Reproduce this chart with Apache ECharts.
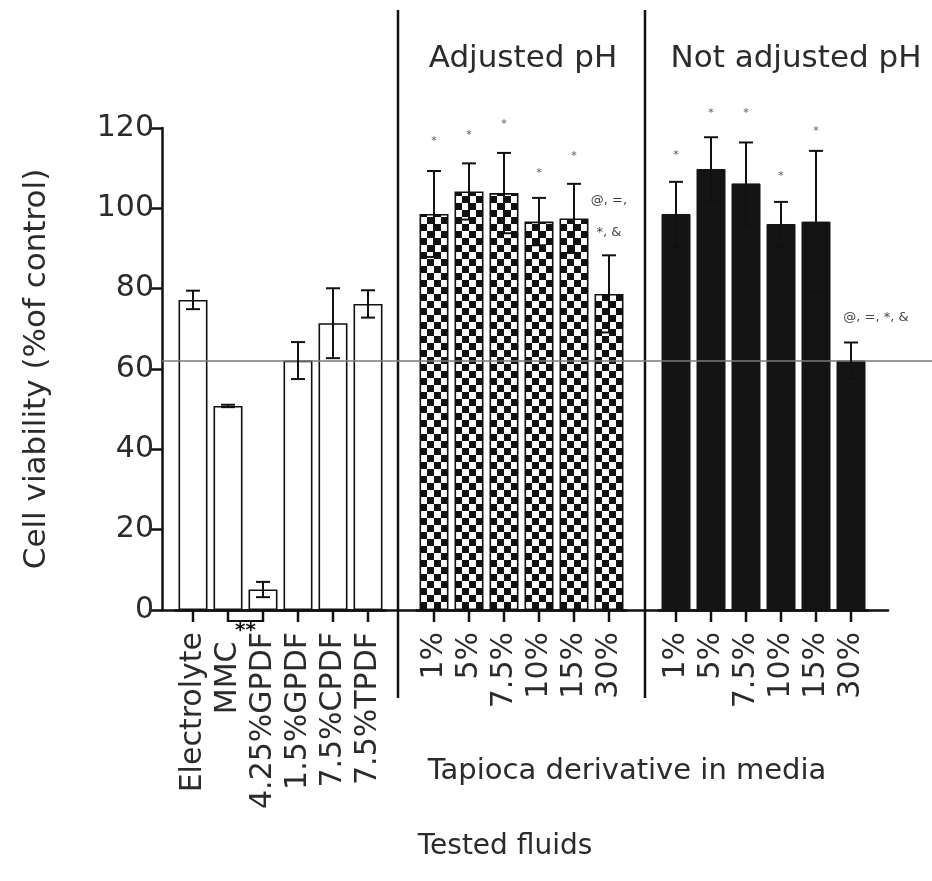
<!DOCTYPE html>
<html>
<head>
<meta charset="utf-8">
<script src="https://cdn.jsdelivr.net/npm/echarts@6/dist/echarts.min.js"></script>
<style>html,body{margin:0;padding:0;background:#fff}#c{width:932px;height:881px}</style>
</head>
<body>
<div id="c"></div>
<script>
// ---- data ----
const categoriesFluids = ['Electrolyte', 'MMC ', '4.25%GPDF', '1.5%GPDF', '7.5%CPDF', '7.5%TPDF'];
const categoriesAdjusted = ['1%', '5%', '7.5%', '10%', '15%', '30%'];
const categoriesNotAdjusted = ['1%', '5%', '7.5%', '10%', '15%', '30%'];
const valuesFluids = [77.2, 50.8, 5.1, 62.1, 71.4, 76.2];
const errFluids = [2.3, 0.3, 1.9, 4.6, 8.7, 3.4];
const valuesAdjusted = [98.6, 104.2, 103.8, 96.7, 97.5, 78.7];
const errAdjusted = [10.7, 7.0, 10.0, 5.9, 8.6, 9.6];
const valuesNotAdjusted = [98.6, 109.8, 106.2, 96.1, 96.7, 62.1];
const errNotAdjusted = [8.0, 7.9, 10.2, 5.5, 17.6, 4.5];
const yMin = 0, yMax = 120, yStep = 20;
const referenceLevel = 62;
// significance marks: [category index, y position, text]
const marksAdjusted = [[0, 116.7, '*'], [1, 118.2, '*'], [2, 121.0, '*'], [3, 108.7, '*'], [4, 113.0, '*'], [5, 101.9, '@, =,'], [5, 94.0, '*, &']];
const marksNotAdjusted = [[0, 113.3, '*'], [1, 123.8, '*'], [2, 123.8, '*'], [3, 108.0, '*'], [4, 119.2, '*']];
const marksNotAdjustedRight = [[5, 72.7, '@, =, *, &']];

const FONT = 'DejaVu Sans';
const TXT = '#2b2b2b';

// checkered pattern
const pat = document.createElement('canvas');
pat.width = 14; pat.height = 14;
const pc = pat.getContext('2d');
pc.fillStyle = '#fff'; pc.fillRect(0, 0, 14, 14);
pc.fillStyle = '#111'; pc.fillRect(0, 0, 7, 7); pc.fillRect(7, 7, 7, 7);

const T = 128, B = 881 - 610;

function errRender(params, api) {
  const x = api.value(0), m = api.value(1), e = api.value(2);
  const top = api.coord([x, m + e]);
  const bot = api.coord([x, m - e]);
  const hw = 7;
  const st = {stroke: '#111', lineWidth: 2};
  return {type: 'group', children: [
    {type: 'line', shape: {x1: top[0], y1: top[1], x2: bot[0], y2: bot[1]}, style: st},
    {type: 'line', shape: {x1: top[0] - hw, y1: top[1], x2: top[0] + hw, y2: top[1]}, style: st},
    {type: 'line', shape: {x1: bot[0] - hw, y1: bot[1], x2: bot[0] + hw, y2: bot[1]}, style: st}
  ]};
}
const marksLookup = {mA: marksAdjusted, mN: marksNotAdjusted, mN2: marksNotAdjustedRight};
function markRender(dx) {
  return function (params, api) {
    const p = api.coord([api.value(0), api.value(1)]);
    const txt = marksLookup[params.seriesName][params.dataIndex][2];
    const small = txt === '*';
    return {type: 'text', x: p[0] + dx, y: p[1], style: {
      text: txt, fill: small ? '#555' : '#444',
      font: (small ? '11px ' : '13px ') + FONT,
      align: 'center', verticalAlign: 'middle'
    }};
  };
}

function catAxis(gi, cats) {
  return {
    type: 'category', gridIndex: gi, data: cats,
    axisLine: {show: true, lineStyle: {color: '#111', width: 2.5}},
    axisTick: {show: true, alignWithLabel: true, length: 11, lineStyle: {color: '#111', width: 2}},
    axisLabel: {rotate: 90, fontFamily: FONT, fontSize: 30, color: TXT, margin: 22, interval: 0}
  };
}
function hiddenY(gi) {
  return {type: 'value', gridIndex: gi, min: yMin, max: yMax, interval: yStep, show: false};
}

const chart = echarts.init(document.getElementById('c'));
chart.setOption({
  backgroundColor: '#fff',
  animation: false,
  title: [
    {text: 'Adjusted pH', left: 518, top: 38, textAlign: 'center', textStyle: {fontFamily: FONT, fontWeight: 'normal', fontSize: 31, color: TXT}},
    {text: 'Not adjusted pH', left: 791, top: 38, textAlign: 'center', textStyle: {fontFamily: FONT, fontWeight: 'normal', fontSize: 31, color: TXT}},
    {text: 'Tapioca derivative in media', left: 622, top: 752, textAlign: 'center', textStyle: {fontFamily: FONT, fontWeight: 'normal', fontSize: 29, color: TXT}},
    {text: 'Tested fluids', left: 500, top: 828, textAlign: 'center', textStyle: {fontFamily: FONT, fontWeight: 'normal', fontSize: 28, color: TXT}}
  ],
  grid: [
    {left: 162, right: 0, top: T, bottom: B},
    {left: 162, width: 726, top: T, bottom: B},
    {left: 175.5, width: 210, top: T, bottom: B},
    {left: 416.5, width: 210, top: T, bottom: B},
    {left: 658.5, width: 210, top: T, bottom: B}
  ],
  xAxis: [
    {type: 'value', gridIndex: 0, min: 0, max: 1, show: false},
    {type: 'value', gridIndex: 1, min: 0, max: 1, axisLine: {show: true, lineStyle: {color: '#111', width: 2.5}}, axisTick: {show: false}, axisLabel: {show: false}, splitLine: {show: false}},
    catAxis(2, categoriesFluids),
    catAxis(3, categoriesAdjusted),
    catAxis(4, categoriesNotAdjusted)
  ],
  yAxis: [
    {type: 'value', gridIndex: 0, min: yMin, max: yMax, interval: yStep,
     name: 'Cell viability (%of control)', nameLocation: 'middle', nameRotate: 90, nameGap: 110,
     nameTextStyle: {fontFamily: FONT, fontSize: 31, color: TXT},
     axisLine: {show: true, lineStyle: {color: '#111', width: 2.5}},
     axisTick: {show: true, length: 11, lineStyle: {color: '#111', width: 2.5}},
     axisLabel: {fontFamily: FONT, fontSize: 30, color: TXT, margin: 8},
     splitLine: {show: false}},
    hiddenY(1), hiddenY(2), hiddenY(3), hiddenY(4)
  ],
  series: [
    {type: 'line', xAxisIndex: 0, yAxisIndex: 0, data: [], silent: true,
     markLine: {silent: true, symbol: 'none', label: {show: false}, lineStyle: {color: '#7a7a7a', width: 1.5, type: 'solid'}, data: [{yAxis: referenceLevel}]}},
    {type: 'bar', xAxisIndex: 2, yAxisIndex: 2, data: valuesFluids, barWidth: 29,
     itemStyle: {color: '#fff', borderColor: '#111', borderWidth: 1.6}},
    {type: 'bar', xAxisIndex: 3, yAxisIndex: 3, data: valuesAdjusted, barWidth: 29,
     itemStyle: {color: {image: pat, repeat: 'repeat'}, borderColor: '#111', borderWidth: 1.6}},
    {type: 'bar', xAxisIndex: 4, yAxisIndex: 4, data: valuesNotAdjusted, barWidth: 29,
     itemStyle: {color: '#141414', borderColor: '#141414', borderWidth: 1}},
    {type: 'custom', xAxisIndex: 2, yAxisIndex: 2, renderItem: errRender, z: 5, data: valuesFluids.map((v, i) => [i, v, errFluids[i]])},
    {type: 'custom', xAxisIndex: 3, yAxisIndex: 3, renderItem: errRender, z: 5, data: valuesAdjusted.map((v, i) => [i, v, errAdjusted[i]])},
    {type: 'custom', xAxisIndex: 4, yAxisIndex: 4, renderItem: errRender, z: 5, data: valuesNotAdjusted.map((v, i) => [i, v, errNotAdjusted[i]])},
    {type: 'custom', name: 'mA', xAxisIndex: 3, yAxisIndex: 3, renderItem: markRender(0), z: 6, data: marksAdjusted.map(m => [m[0], m[1]])},
    {type: 'custom', name: 'mN', xAxisIndex: 4, yAxisIndex: 4, renderItem: markRender(0), z: 6, data: marksNotAdjusted.map(m => [m[0], m[1]])},
    {type: 'custom', name: 'mN2', xAxisIndex: 4, yAxisIndex: 4, renderItem: markRender(25), z: 6, data: marksNotAdjustedRight.map(m => [m[0], m[1]])}
  ]
});

// decorations: category ticks, group separators, significance bracket under MMC / 4.25%GPDF
const y0 = chart.convertToPixel({yAxisIndex: 2}, 0);
const tickSt = {stroke: '#111', lineWidth: 2.5};
const deco = [];
[[2, categoriesFluids], [3, categoriesAdjusted], [4, categoriesNotAdjusted]].forEach(([ax, cats]) => {
  cats.forEach((c, i) => {
    const x = chart.convertToPixel({xAxisIndex: ax}, i);
    deco.push({type: 'line', z: 50, shape: {x1: x, y1: y0, x2: x, y2: y0 + 12}, style: tickSt});
  });
});
const xM = chart.convertToPixel({xAxisIndex: 2}, 1);
const xG = chart.convertToPixel({xAxisIndex: 2}, 2);
deco.push(
  {type: 'line', shape: {x1: 398, y1: 10, x2: 398, y2: 698}, style: {stroke: '#111', lineWidth: 2.5}},
  {type: 'line', shape: {x1: 645, y1: 10, x2: 645, y2: 698}, style: {stroke: '#111', lineWidth: 2.5}},
  {type: 'line', z: 50, shape: {x1: xM, y1: y0 + 11, x2: xG, y2: y0 + 11}, style: {stroke: '#111', lineWidth: 2}},
  {type: 'text', x: (xM + xG) / 2, y: y0 + 21, style: {text: '**', fill: '#111', font: 'bold 20px ' + FONT, align: 'center', verticalAlign: 'middle'}}
);
chart.setOption({graphic: deco});
</script>
</body>
</html>
